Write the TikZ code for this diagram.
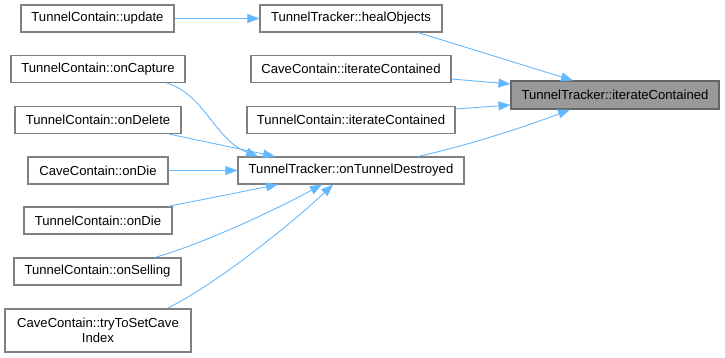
\documentclass[tikz,border=0pt]{standalone}
\usepackage{fontspec}
\setmainfont{Liberation Sans}
\usetikzlibrary{arrows.meta,calc}
\definecolor{edgeblue}{HTML}{63B8FF}
\definecolor{boxline}{HTML}{808080}
\definecolor{focusfill}{HTML}{999999}
\definecolor{focusline}{HTML}{666666}
\begin{document}
\begin{tikzpicture}[x=1pt,y=-1pt,
  fn/.style={draw=boxline,line width=1.1pt,fill=white,rectangle,inner sep=0pt,
    minimum height=27pt,font=\fontsize{13.1}{15.5}\selectfont,align=center},
  focus/.style={fn,fill=focusfill,draw=focusline},
  call/.style={draw=edgeblue,line width=0.9pt,-{Triangle[length=12pt,width=9pt]}}]
\useasboundingbox (0,0) rectangle (725,357);

% callers on the left
\node[fn,minimum width=153pt] (upd)  at (97.5,18.5) {TunnelContain::update};
\node[fn,minimum width=174pt] (cap)  at (98,69)     {TunnelContain::onCapture};
\node[fn,minimum width=166pt] (del)  at (98,120)    {TunnelContain::onDelete};
\node[fn,minimum width=140pt] (cdie) at (98,170.5)  {CaveContain::onDie};
\node[fn,minimum width=148pt] (tdie) at (98,220.5)  {TunnelContain::onDie};
\node[fn,minimum width=167pt] (sell) at (97.5,271.5){TunnelContain::onSelling};
\node[fn,minimum width=186pt,minimum height=43pt] (try) at (98,330.5)
  {CaveContain::tryToSetCave\\Index};

% middle column
\node[fn,minimum width=182pt] (heal)  at (351,18.5)  {TunnelTracker::healObjects};
\node[fn,minimum width=200pt] (citer) at (351,69)    {CaveContain::iterateContained};
\node[fn,minimum width=208pt] (titer) at (351,120)   {TunnelContain::iterateContained};
\node[fn,minimum width=226pt] (dest)  at (351,170.5) {TunnelTracker::onTunnelDestroyed};

% the function whose callers are shown
\node[focus,minimum width=208pt,minimum height=28pt] (main) at (615,95)
  {TunnelTracker::iterateContained};

% calls into onTunnelDestroyed
\draw[call] (upd.east) -- (heal.west);
\draw[call] ([xshift=69pt]cap.south) .. controls (205,95) and (215,140) .. ([xshift=-93pt]dest.north);
\draw[call] ([xshift=71pt]del.south) -- ([xshift=-76pt]dest.north);
\draw[call] (cdie.east) -- (dest.west);
\draw[call] ([xshift=70pt]tdie.north) -- ([xshift=-73pt]dest.south);
\draw[call] ([xshift=57.5pt]sell.north) .. controls (205,243) and (275,210) .. ([xshift=-29pt]dest.south);
\draw[call] ([xshift=69pt]try.north) .. controls (215,285) and (290,225) .. ([xshift=-18pt]dest.south);

% calls into iterateContained
\draw[call] ([xshift=67pt]heal.south) -- ([xshift=-42pt]main.north);
\draw[call] ([yshift=-10pt]citer.east) -- ([yshift=11pt]main.west);
\draw[call] ([yshift=11pt]titer.east) -- ([yshift=-10pt]main.west);
\draw[call] ([xshift=67pt]dest.north) .. controls (470,145) and (530,125) .. ([xshift=-45pt]main.south);
\end{tikzpicture}
\end{document}
